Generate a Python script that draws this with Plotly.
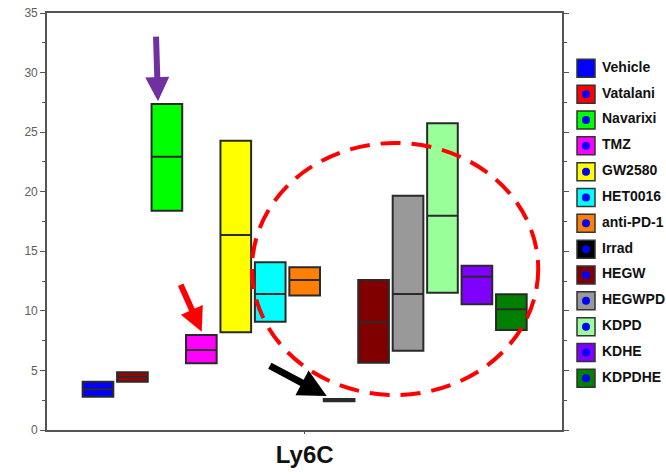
import plotly.graph_objects as go

# ---- data ----
groups = ["Vehicle", "Vatalanib", "Navarixin", "TMZ", "GW2580", "HET0016", "anti-PD-1",
          "Irrad", "HEGW", "HEGWPD", "KDPD", "KDHE", "KDPDHE"]
legend_labels = ["Vehicle", "Vatalani", "Navarixi", "TMZ", "GW2580", "HET0016", "anti-PD-1",
                 "Irrad", "HEGW", "HEGWPD", "KDPD", "KDHE", "KDPDHE"]
q1 =     [2.80, 4.05, 18.41, 5.60, 8.20, 9.09, 11.28, 2.42, 5.65, 6.66, 11.53, 10.55, 8.39]
median = [3.42, 4.45, 22.94, 6.71, 16.37, 11.41, 12.59, 2.50, 9.04, 11.41, 17.99, 12.87, 10.13]
q3 =     [4.05, 4.84, 27.36, 7.97, 24.28, 14.08, 13.65, 2.60, 12.59, 19.67, 25.74, 13.79, 11.39]
box_colors = ["#0000FF", "#A00000", "#00FF00", "#FF00FF", "#FFFF00", "#00FFFF", "#FF8000",
              "#000000", "#800000", "#999999", "#99FF99", "#8000FF", "#008000"]
legend_colors = ["#0000FF", "#FF0000", "#00FF00", "#FF00FF", "#FFFF00", "#00FFFF", "#FF8000",
                 "#000000", "#800000", "#999999", "#99FF99", "#8000FF", "#008000"]
marker_label = "Ly6C"

W, H = 666, 475
L, R, T, B = 47, 0, 13, 45
plot_w = W - L - R
main_frac = 515 / plot_w

fig = go.Figure()
for i, g in enumerate(groups):
    fig.add_trace(go.Box(
        x=[i], q1=[q1[i]], median=[median[i]], q3=[q3[i]],
        lowerfence=[q1[i]], upperfence=[q3[i]],
        width=0.89, fillcolor=box_colors[i],
        line=dict(color="#2a2a2a", width=2),
        boxpoints=False, name=g, showlegend=False,
        xaxis="x", yaxis="y",
    ))

# custom legend on side axes
rows = list(range(len(groups)))
fig.add_trace(go.Scatter(
    x=[24] * len(groups), y=rows, mode="markers",
    marker=dict(symbol="square", size=18, color=legend_colors,
                line=dict(color="#333333", width=1.5)),
    xaxis="x2", yaxis="y2", showlegend=False, hoverinfo="skip",
))
fig.add_trace(go.Scatter(
    x=[24] * len(groups), y=rows, mode="markers",
    marker=dict(symbol="circle", size=8, color="#0000FF"),
    xaxis="x2", yaxis="y2", showlegend=False, hoverinfo="skip",
))
fig.add_trace(go.Scatter(
    x=[40] * len(groups), y=rows, mode="text", text=legend_labels,
    textposition="middle right",
    textfont=dict(family="Liberation Sans, Arial", size=14, color="#111111", weight="bold"),
    xaxis="x2", yaxis="y2", showlegend=False, hoverinfo="skip", cliponaxis=False,
))

# annotations: arrows and dashed ellipse
arrows = [
    dict(x=1.742, y=27.6, ax=1.684, ay=33.15, color="#7030A0", w=6),
    dict(x=3.011, y=8.25, ax=2.381, ay=12.31, color="#FF0000", w=6),
    dict(x=6.64, y=2.85, ax=4.945, ay=5.46, color="#000000", w=7),
]
for a in arrows:
    fig.add_annotation(x=a["x"], y=a["y"], ax=a["ax"], ay=a["ay"],
                       xref="x", yref="y", axref="x", ayref="y",
                       showarrow=True, arrowhead=2, arrowsize=0.8,
                       arrowwidth=a["w"], arrowcolor=a["color"], text="")

fig.add_shape(type="circle", xref="x", yref="y", x0=4.47, x1=12.78, y0=2.94, y1=24.09,
              line=dict(color="#FF0000", width=4, dash="20px,11px"), layer="above")

axis_line = "#555555"
fig.update_layout(
    width=W, height=H,
    margin=dict(l=L, r=R, t=T, b=B),
    paper_bgcolor="white", plot_bgcolor="white",
    boxmode="overlay",
    xaxis=dict(domain=[0, main_frac], range=[-1.48, 13.47],
               tickmode="array", tickvals=[6], ticktext=[marker_label],
               ticks="outside", ticklen=2, tickcolor=axis_line,
               tickfont=dict(family="Liberation Sans, Arial", size=24, color="#111111", weight="bold"),
               showline=True, linecolor=axis_line, linewidth=1.6, mirror=True,
               showgrid=False, zeroline=False),
    yaxis=dict(range=[0, 35], dtick=5, tick0=0,
               ticks="outside", ticklen=5, tickcolor=axis_line, tickwidth=1.2,
               minor=dict(dtick=2.5, ticks="outside", ticklen=3, tickcolor=axis_line),
               tickfont=dict(family="Liberation Sans, Arial", size=12, color="#606060"),
               showline=True, linecolor=axis_line, linewidth=1.6, mirror="ticks",
               showgrid=False, zeroline=False),
    xaxis2=dict(domain=[main_frac, 1], range=[0, 104], visible=False, anchor="y2"),
    yaxis2=dict(domain=[0, 1], range=[14.0, -2.141], visible=False, anchor="x2"),
)

fig.write_html("out.html", config={"displayModeBar": False},
               post_script="document.body.style.margin='0';document.body.style.overflow='hidden';")
